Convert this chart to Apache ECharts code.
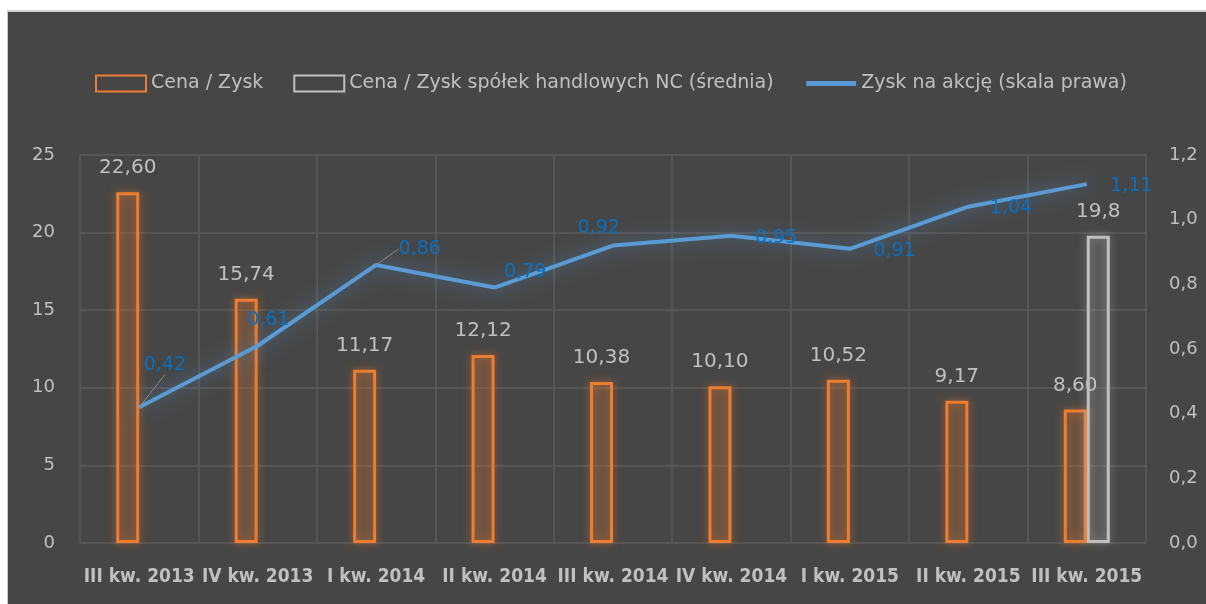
<!DOCTYPE html>
<html>
<head>
<meta charset="utf-8">
<script src="https://cdn.jsdelivr.net/npm/echarts@6/dist/echarts.min.js"></script>
<style>
  body { margin: 0; background: #fff; }
  #chart {
    position: absolute; left: 7px; top: 10px;
    width: 1198px; height: 592px;
    border-left: 1px solid #c9c9c9; border-top: 2px solid #d2d2d2;
  }
</style>
</head>
<body>
<div id="chart"></div>
<script>
// dane wykresu
const categories = ['III kw. 2013', 'IV kw. 2013', 'I kw. 2014', 'II kw. 2014', 'III kw. 2014',
  'IV kw. 2014', 'I kw. 2015', 'II kw. 2015', 'III kw. 2015'];
const cenaZysk = [22.60, 15.74, 11.17, 12.12, 10.38, 10.10, 10.52, 9.17, 8.60];
const cenaZyskNC = [null, null, null, null, null, null, null, null, 19.8];
const zyskNaAkcje = [0.42, 0.61, 0.86, 0.79, 0.92, 0.95, 0.91, 1.04, 1.11];
const leftTicks = [0, 25, 5];   // min, max, interval
const rightTicks = [0, 1.2, 0.2];

// przesunięcia etykiet linii (jak w oryginale), linie odniesienia dla 0,42 i 0,86
const lineLabelShift = [[4, -42], [-11, -26], [22, -16], [9, -16], [-36, -17],
  [23, 2], [23, 2], [21, 1], [23, 2]];
const withLeader = [true, false, true, false, false, false, false, false, false];

const comma = (v, d) => v.toFixed(d).replace('.', ',');
const txt = '#c0c0c0';
const font = 'DejaVu Sans';

let chart = echarts.init(document.getElementById('chart'));

let option = {
  backgroundColor: '#464646',
  animation: false,
  legend: {
    left: 82,
    top: 57,
    itemWidth: 50,
    itemHeight: 16,
    itemGap: 30,
    textStyle: { color: txt, fontSize: 19, fontFamily: font },
    data: [
      { name: 'Cena / Zysk', icon: 'rect',
        itemStyle: { color: 'rgba(0,0,0,0)', borderColor: '#ed7d31', borderWidth: 2, shadowBlur: 0 } },
      { name: 'Cena / Zysk spółek handlowych NC (średnia)', icon: 'rect',
        itemStyle: { color: 'rgba(0,0,0,0)', borderColor: '#bfbfbf', borderWidth: 2, shadowBlur: 0 } },
      { name: 'Zysk na akcję (skala prawa)',
        itemStyle: { opacity: 0 },
        lineStyle: { color: '#5b9bd5', width: 5, shadowBlur: 0 } }
    ]
  },
  grid: { left: 72, right: 60, top: 143, bottom: 61 },
  xAxis: {
    type: 'category',
    data: categories,
    axisLine: { show: false },
    axisTick: { show: false },
    splitLine: { show: true, lineStyle: { color: '#5c5c5c', width: 1.5 } },
    axisLabel: {
      interval: 0, margin: 25,
      color: txt, fontSize: 19, fontWeight: 'bold', fontFamily: 'DejaVu Sans Condensed'
    }
  },
  yAxis: [
    {
      type: 'value', min: leftTicks[0], max: leftTicks[1], interval: leftTicks[2],
      axisLine: { show: false }, axisTick: { show: false },
      splitLine: { lineStyle: { color: '#5c5c5c', width: 1.5 } },
      axisLabel: { margin: 25, color: txt, fontSize: 18, fontFamily: font }
    },
    {
      type: 'value', min: rightTicks[0], max: rightTicks[1], interval: rightTicks[2],
      axisLine: { show: false }, axisTick: { show: false },
      splitLine: { show: false },
      axisLabel: {
        margin: 23, color: txt, fontSize: 18, fontFamily: font,
        formatter: v => comma(v, 1)
      }
    }
  ],
  series: [
    {
      name: 'Cena / Zysk',
      type: 'bar',
      data: cenaZysk,
      barWidth: 23,
      barGap: '0%',
      itemStyle: {
        color: 'rgba(237,125,49,0.14)',
        borderColor: '#ed7d31', borderWidth: 3,
        shadowColor: 'rgba(237,125,49,0.7)', shadowBlur: 10
      },
      label: {
        show: true, position: 'top', distance: 14,
        color: txt, fontSize: 20, fontFamily: font,
        formatter: p => comma(p.value, 2)
      }
    },
    {
      name: 'Cena / Zysk spółek handlowych NC (średnia)',
      type: 'bar',
      data: cenaZyskNC,
      barWidth: 23,
      barGap: '0%',
      itemStyle: {
        color: 'rgba(191,191,191,0.1)',
        borderColor: '#bfbfbf', borderWidth: 3,
        shadowColor: 'rgba(191,191,191,0.6)', shadowBlur: 10
      },
      label: {
        show: true, position: 'top', distance: 14,
        color: txt, fontSize: 20, fontFamily: font,
        formatter: p => comma(p.value, 1)
      }
    },
    {
      name: 'Zysk na akcję (skala prawa)',
      type: 'line',
      yAxisIndex: 1,
      symbol: 'circle',
      symbolSize: 1,
      z: 5,
      data: zyskNaAkcje.map((v, i) => ({
        value: v,
        labelLine: { show: withLeader[i] }
      })),
      labelLayout: p => ({
        dx: lineLabelShift[p.dataIndex][0],
        dy: lineLabelShift[p.dataIndex][1]
      }),
      labelLine: {
        lineStyle: { color: '#8a8a8a', width: 1 }
      },
      lineStyle: {
        color: '#5b9bd5', width: 4,
        shadowColor: 'rgba(91,155,213,0.75)', shadowBlur: 20
      },
      itemStyle: { color: '#5b9bd5' },
      label: {
        show: true, position: 'right', distance: 0,
        color: '#0a70c0', fontSize: 19, fontFamily: font,
        formatter: p => comma(p.value, 2)
      }
    }
  ]
};

chart.setOption(option);
</script>
</body>
</html>
